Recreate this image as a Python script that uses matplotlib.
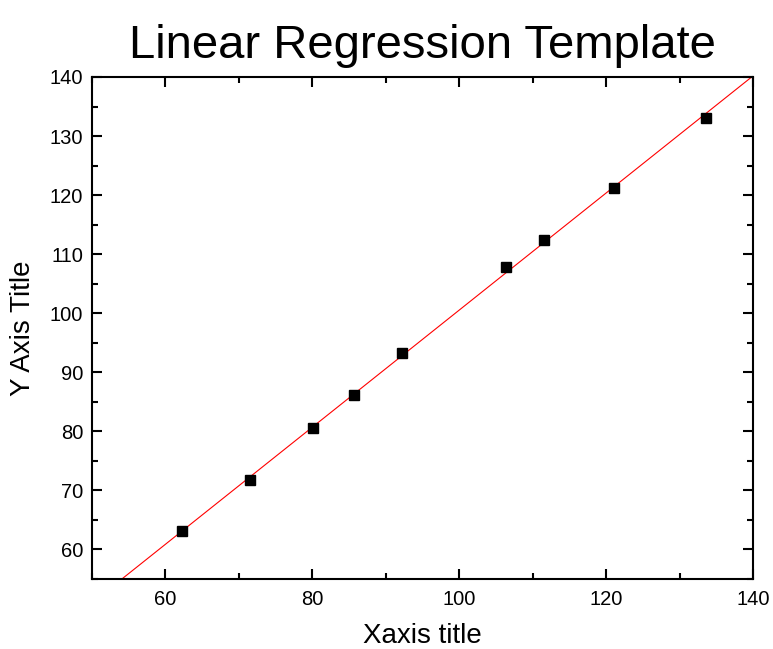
import numpy as np
import matplotlib
matplotlib.use("Agg")
import matplotlib.pyplot as plt
from matplotlib.ticker import MultipleLocator

plt.rcParams['font.family'] = ['Liberation Sans', 'DejaVu Sans']

x_values = [62.3, 71.6, 80.1, 85.7, 92.2, 106.4, 111.6, 121.1, 133.6]
y_values = [63.2, 71.7, 80.5, 86.1, 93.3, 107.9, 112.4, 121.2, 133.1]
title = "Linear Regression Template"
xlabel = "Xaxis title"
ylabel = "Y Axis Title"

fig = plt.figure(figsize=(7.73, 6.49), dpi=100)
ax = fig.add_axes([91.5/773, 1 - 579/649, (753-91.5)/773, (579-77)/649])

slope, intercept = np.polyfit(x_values, y_values, 1)
xl = np.array([50, 140])
ax.plot(xl, slope*xl + intercept, color='red', lw=0.8, zorder=2)
ax.plot(x_values, y_values, 's', color='black', ms=7.5, zorder=3)

ax.set_xlim(50, 140)
ax.set_ylim(55, 140)
ax.xaxis.set_major_locator(MultipleLocator(20))
ax.xaxis.set_minor_locator(MultipleLocator(10))
ax.yaxis.set_major_locator(MultipleLocator(10))
ax.yaxis.set_minor_locator(MultipleLocator(5))
ax.tick_params(which='both', direction='in', top=True, right=True, width=1.5, labelsize=14.5)
ax.tick_params(which='major', length=7)
ax.tick_params(which='minor', length=4)
ax.tick_params(axis='x', pad=8)
ax.tick_params(axis='y', pad=6)
for s in ax.spines.values():
    s.set_linewidth(1.5)

ax.set_title(title, fontsize=34, pad=14)
ax.set_xlabel(xlabel, fontsize=20, labelpad=10)
ax.set_ylabel(ylabel, fontsize=20, labelpad=10)

fig.savefig("out.png", dpi=100)
